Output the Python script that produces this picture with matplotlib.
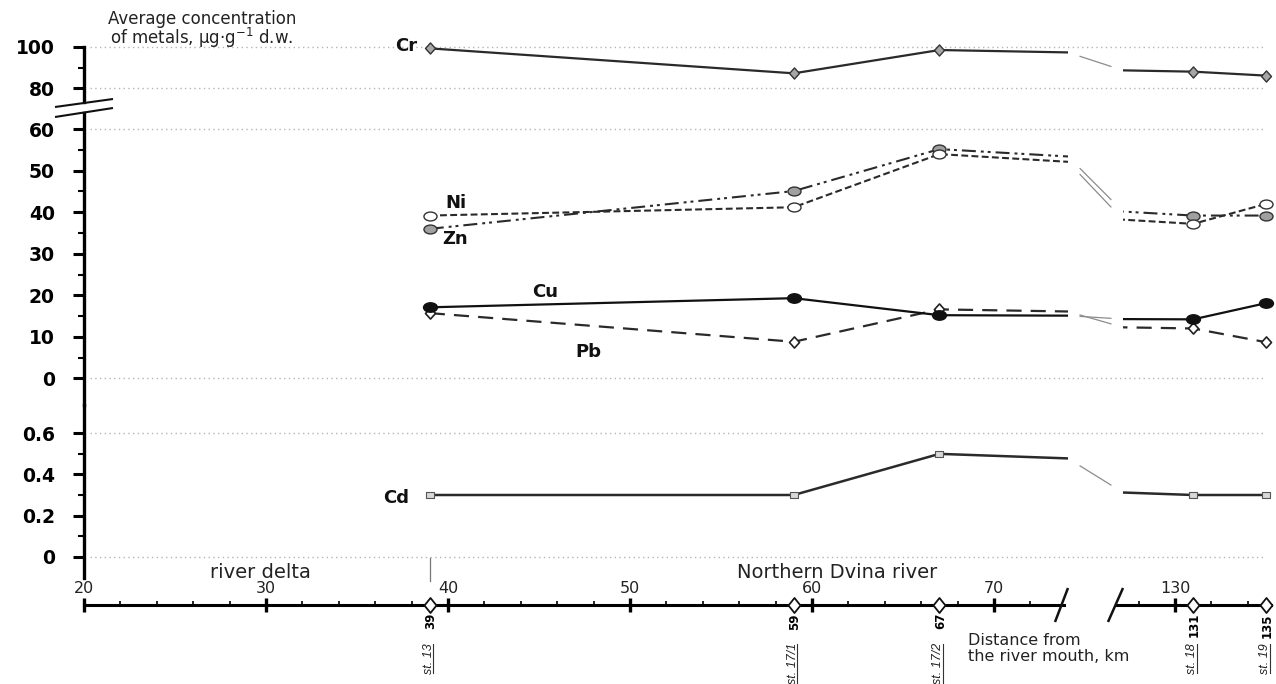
import numpy as np
import matplotlib
matplotlib.use("Agg")
import matplotlib.pyplot as plt
from matplotlib.path import Path
from matplotlib.transforms import Affine2D
from matplotlib.lines import Line2D

plt.rcParams["font.family"] = ["DejaVu Sans"]

# ---------------------------------------------------------------- data
station_km = [39, 59, 67, 131, 135]
station_names = ["st. 13", "st. 17/1", "st. 17/2", "st. 18", "st. 19"]

cr = [99.2, 87.2, 98.4, 88.0, 86.1]
ni = [39.2, 41.2, 54.0, 37.2, 42.0]
zn = [36.0, 45.1, 55.2, 39.2, 39.2]
cu = [17.1, 19.3, 15.2, 14.2, 18.1]
pb = [15.7, 8.8, 16.6, 12.0, 8.7]
cd = [0.30, 0.30, 0.50, 0.30, 0.30]

upper_ticks = [80, 100]
upper_minor = [90]
main_ticks = [0, 10, 20, 30, 40, 50, 60]
main_minor = [5, 15, 25, 35, 45, 55]
cd_ticks = [0, 0.2, 0.4, 0.6]
cd_tick_labels = ["0", "0.2", "0.4", "0.6"]
cd_minor = [0.1, 0.3, 0.5]

km_ticks_near = [20, 30, 40, 50, 60, 70]
km_minor_near = [22, 24, 26, 28, 32, 34, 36, 38, 42, 44, 46, 48,
                 52, 54, 56, 58, 62, 64, 66, 68, 72]
km_ticks_far = [130]
km_minor_far = [128, 132, 134]

# -------------------------------------------------------------- layout
W, H = 1276, 684
PX_PER_KM = 18.2
fig = plt.figure(figsize=(W / 100, H / 100), dpi=100)
fig.patch.set_facecolor("white")


def px_axes(left, top, right, bottom):
    return fig.add_axes([left / W, 1 - bottom / H, (right - left) / W, (bottom - top) / H])


def km_range(left_px, right_px, ref_km, ref_px):
    return (ref_km + (left_px - ref_px) / PX_PER_KM,
            ref_km + (right_px - ref_px) / PX_PER_KM)


def value_range(top_px, bottom_px, ref_a, ref_b):
    (va, pa), (vb, pb_) = ref_a, ref_b
    k = (va - vb) / (pb_ - pa)
    return (va - (bottom_px - pa) * k, va - (top_px - pa) * k)


NEAR_PX = (84, 1068)
FAR_PX = (1123, 1276)
near_km = km_range(NEAR_PX[0], NEAR_PX[1], 20, 84)
far_km = km_range(FAR_PX[0], FAR_PX[1], 130, 1175)

TICK_FONT = dict(fontsize=13.5, fontweight="bold")
GRID = dict(color="#b4b4b4", lw=1.0, ls=(0, (1, 2.4)))


def make_panel(top, bottom, ref_a, ref_b, ticks, labels, minor, grid, spine_top=None):
    ylim = value_range(top, bottom, ref_a, ref_b)
    bg = px_axes(84, top, 1276, bottom)
    bg.set_xlim(0, 1)
    bg.set_ylim(*ylim)
    bg.patch.set_visible(False)
    for side in ("top", "right", "bottom"):
        bg.spines[side].set_visible(False)
    bg.spines["left"].set_linewidth(2.4)
    if spine_top is not None:
        bg.spines["left"].set_bounds(ylim[0], spine_top)
    bg.set_xticks([])
    bg.set_yticks(ticks)
    bg.set_yticklabels(labels, **TICK_FONT)
    bg.set_yticks(minor, minor=True)
    bg.tick_params(axis="y", which="major", direction="out", length=8, width=2.2, pad=13)
    bg.tick_params(axis="y", which="minor", direction="out", length=4.5, width=1.5)
    for g in grid:
        bg.axhline(g, xmin=0.005, xmax=0.989, zorder=0, **GRID)
    axes = [bg]
    for px, lim in ((NEAR_PX, near_km), (FAR_PX, far_km)):
        ax = px_axes(px[0], top, px[1], bottom)
        ax.set_xlim(*lim)
        ax.set_ylim(*ylim)
        ax.set_axis_off()
        axes.append(ax)
    return axes


upper = make_panel(40, 102, (100, 46.7), (80, 88.3), upper_ticks,
                   [str(t) for t in upper_ticks], upper_minor, [80, 100], spine_top=100)
main = make_panel(113, 405, (60, 129.2), (0, 378.3), main_ticks,
                  [str(t) for t in main_ticks], main_minor, [0, 60])
cdp = make_panel(405, 578, (0.6, 433.3), (0, 556.7), cd_ticks,
                 cd_tick_labels, cd_minor, [0, 0.6])

# -------------------------------------------------------------- markers
ellipse = Path.unit_circle().transformed(Affine2D().scale(1.0, 0.68))
diamond = Path([(0, 1), (0.9, 0), (0, -1), (-0.9, 0), (0, 1)],
               [Path.MOVETO, Path.LINETO, Path.LINETO, Path.LINETO, Path.CLOSEPOLY])
axis_diamond = Path([(0, 1), (0.8, 0), (0, -1), (-0.8, 0), (0, 1)],
                    [Path.MOVETO, Path.LINETO, Path.LINETO, Path.LINETO, Path.CLOSEPOLY])
rect = Path([(-1, -0.7), (1, -0.7), (1, 0.7), (-1, 0.7), (-1, -0.7)],
            [Path.MOVETO, Path.LINETO, Path.LINETO, Path.LINETO, Path.CLOSEPOLY])

connectors = []


def plot_series(panel, values, **style):
    for ax in panel[1:]:
        ax.plot(station_km, values, **style)
    connectors.append((panel, values))


plot_series(upper, cr, color="#2a2a2a", lw=1.6, ls="-", marker=diamond, ms=8,
            mfc="#a6a6a6", mec="#333333", mew=1.0)
plot_series(main, zn, color="#2a2a2a", lw=1.5, ls=(0, (6.7, 2.4, 1.4, 1.9, 1.4, 2.4)),
            marker=ellipse, ms=9.4, mfc="#a0a0a0", mec="#333333", mew=1.0)
plot_series(main, ni, color="#2a2a2a", lw=1.5, ls=(0, (3.3, 1.6)),
            marker=ellipse, ms=9.4, mfc="white", mec="#333333", mew=1.0)
plot_series(main, pb, color="#2a2a2a", lw=1.6, ls=(0, (6.8, 4.1)),
            marker=diamond, ms=8, mfc="white", mec="#222222", mew=1.2)
plot_series(main, cu, color="#111111", lw=1.6, ls="-",
            marker=ellipse, ms=10, mfc="#111111", mec="#111111", mew=1.0)
plot_series(cdp, cd, color="#2a2a2a", lw=1.8, ls="-",
            marker=rect, ms=6, mfc="#d8d8d8", mec="#555555", mew=0.8)

# thin links across the distance break
inv = fig.transFigure.inverted()
for panel, values in connectors:
    near, far = panel[1], panel[2]
    x_end = near.get_xlim()[1]
    x_start = far.get_xlim()[0]
    a = near.transData.transform((x_end, np.interp(x_end, station_km, values)))
    b = far.transData.transform((x_start, np.interp(x_start, station_km, values)))
    f = 0.22
    a2, b2 = a + f * (b - a), b - f * (b - a)
    p = inv.transform([a2, b2])
    fig.add_artist(Line2D(p[:, 0], p[:, 1], transform=fig.transFigure,
                          color="#8c8c8c", lw=0.9))

# metal names
NAME_FONT = dict(fontsize=13, fontweight="bold", color="#111111")
for panel, values, name, off, ha in (
        (upper, cr, "Cr", (-13, 2), "right"),
        (main, ni, "Ni", (26, 13), "center"),
        (main, zn, "Zn", (25, -10), "center"),
        (main, cu, "Cu", (115, 15), "center"),
        (main, pb, "Pb", (159, -39), "center"),
        (cdp, cd, "Cd", (-21, -2.5), "right")):
    panel[1].annotate(name, xy=(station_km[0], values[0]), xytext=off,
                      textcoords="offset pixels", ha=ha, va="center", **NAME_FONT)

# --------------------------------------------------------- distance axis
def km_axis(left_px, right_px, ref_km, ref_px, bounds, major, minor):
    ax = px_axes(left_px, 605, right_px, 684)
    ax.set_xlim(*km_range(left_px, right_px, ref_km, ref_px))
    ax.set_ylim(0, 1)
    ax.patch.set_visible(False)
    for side in ("left", "right", "bottom"):
        ax.spines[side].set_visible(False)
    ax.spines["top"].set_linewidth(2.2)
    ax.spines["top"].set_bounds(*bounds)
    ax.xaxis.tick_top()
    ax.set_xticks(major)
    ax.set_xticklabels([str(m) for m in major])
    ax.set_xticks(minor, minor=True)
    ax.tick_params(axis="x", which="major", direction="inout", length=9.5, width=2.4,
                   pad=1.5, labelsize=11.5, labeltop=True, labelbottom=False,
                   labelcolor="#222222")
    ax.tick_params(axis="x", which="minor", direction="out", length=3, width=1.2)
    ax.set_yticks([])
    return ax


ax_near = km_axis(84, 1068, 20, 84, (20, 73.85), km_ticks_near, km_minor_near)
ax_far = km_axis(1110, 1276, 130, 1175, (126.75, 135.3), km_ticks_far, km_minor_far)

station_texts = []
for ax, lo, hi in ((ax_near, 0, 3), (ax_far, 3, 5)):
    kms = station_km[lo:hi]
    ax.plot(kms, [1] * len(kms), transform=ax.get_xaxis_transform(), ls="none",
            marker=axis_diamond, ms=10.8, mfc="white", mec="#111111", mew=1.3,
            clip_on=False, zorder=5)
    for k, name in zip(kms, station_names[lo:hi]):
        ax.annotate(str(k), xy=(k, 1), xycoords=("data", "axes fraction"),
                    xytext=(1, -8), textcoords="offset pixels", rotation=90,
                    ha="center", va="top", fontsize=8.5, fontweight="bold")
        t = ax.annotate(name, xy=(k, 1), xycoords=("data", "axes fraction"),
                        xytext=(-1, -38), textcoords="offset pixels", rotation=90,
                        ha="center", va="top", fontsize=9, fontstyle="italic",
                        family=["Liberation Sans", "DejaVu Sans"], color="#222222")
        station_texts.append(t)

# delta / river boundary
ax_near.plot([39, 39], [(684 - 558) / 79, (684 - 581) / 79],
             transform=ax_near.get_xaxis_transform(), clip_on=False,
             color="#777777", lw=0.9)
ax_near.annotate("river delta", xy=(29.7, 1), xycoords=("data", "axes fraction"),
                 xytext=(0, 33), textcoords="offset pixels", ha="center", va="center",
                 fontsize=14, color="#222222")
ax_near.annotate("Northern Dvina river", xy=(61.4, 1), xycoords=("data", "axes fraction"),
                 xytext=(0, 33), textcoords="offset pixels", ha="center", va="center",
                 fontsize=14, color="#222222")
fig.text(968 / W, 1 - 648.3 / H, "Distance from\nthe river mouth, km",
         ha="left", va="center", fontsize=11.5, linespacing=1.05, color="#222222")

# concentration axis title, two lines
fig.text(202 / W, 1 - 23.5 / H, "Average concentration", ha="center", va="baseline",
         fontsize=12, color="#222222")
fig.text(202 / W, 1 - 44 / H, "of metals, μg·g$^{-1}$ d.w.", ha="center",
         va="baseline", fontsize=12, color="#222222")


def fig_line(x1, y1, x2, y2, lw, color="#111111"):
    fig.add_artist(Line2D([x1 / W, x2 / W], [1 - y1 / H, 1 - y2 / H],
                          transform=fig.transFigure, color=color, lw=lw,
                          solid_capstyle="butt"))


# scale break on the concentration axis
fig_line(55, 107, 113, 99, 1.5)
fig_line(55, 117, 113, 108, 1.5)
# break on the distance axis
fig_line(1055, 622, 1068, 588, 1.8)
fig_line(1108, 622, 1123, 588, 1.8)

# underline the station names
fig.canvas.draw()
renderer = fig.canvas.get_renderer()
for t in station_texts:
    bb = t.get_window_extent(renderer)
    x = bb.x1 - 1.5
    p = inv.transform([(x, bb.y0 + 1), (x, bb.y1 - 1)])
    fig.add_artist(Line2D(p[:, 0], p[:, 1], transform=fig.transFigure,
                          color="#333333", lw=0.8))

fig.savefig("out.png", dpi=100, facecolor="white")
